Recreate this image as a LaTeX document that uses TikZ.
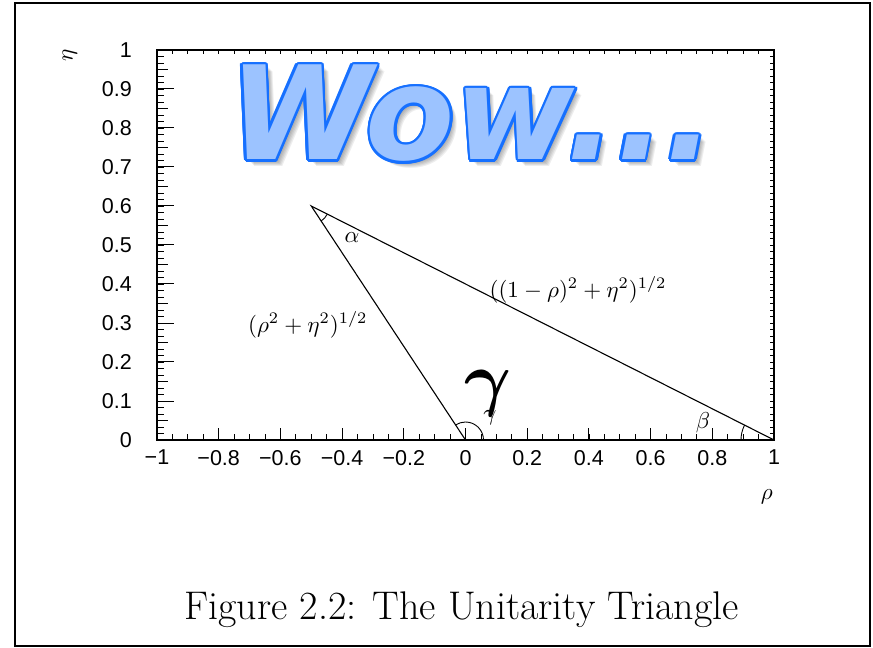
\documentclass[tikz,border=0pt]{standalone}
\usepackage{bm}
\usepackage{fontspec}
\newfontfamily\plotfont{Liberation Sans}
\newfontfamily\wowfont{DejaVu Sans}
\definecolor{wowfill}{HTML}{9CC3FF}
\definecolor{wowline}{HTML}{1670FF}

\begin{document}
\begin{tikzpicture}[x=1pt,y=1pt,
    ticklab/.style={font=\plotfont\fontsize{21.5}{21.5}\selectfont, inner sep=0pt},
    symlab/.style={scale=2.3, inner sep=0pt},
    wowtext/.style={font=\wowfont\bfseries\itshape\fontsize{130}{130}\selectfont, inner sep=0pt, anchor=base}]
    \useasboundingbox (0,0) rectangle (873,648);
    % Rahmen
    \draw[line width=2pt] (15,2) rectangle (870,645);

    % Plot
    \begin{scope}[shift={(465.5pt,208pt)}, x=308.5pt, y=390pt]
        \draw[line width=1.2pt] (-1,0) rectangle (1,1);

        % Striche rho
        \foreach \i in {-20,...,20} {
            \draw[line width=0.8pt] (\i/20,0) -- ++(0,6pt);
            \draw[line width=0.8pt] (\i/20,1) -- ++(0,-4pt);
        }
        \foreach \i in {-5,...,5}
            \draw[line width=1pt] (\i/5,0) -- ++(0,12pt);

        % Striche eta
        \foreach \j in {0,...,60} {
            \draw[line width=0.8pt] (-1,\j/60) -- ++(7pt,0);
            \draw[line width=0.8pt] (1,\j/60) -- ++(-4pt,0);
        }
        \foreach \j in {0,...,9}
            \draw[line width=0.8pt] (-1,\j/10+0.05) -- ++(11pt,0);
        \foreach \j in {0,...,10}
            \draw[line width=1pt] (-1,\j/10) -- ++(17pt,0);

        % Beschriftung
        \foreach \i/\t in {-5/−1,-4/−0.8,-3/−0.6,-2/−0.4,-1/−0.2,0/0,1/0.2,2/0.4,3/0.6,4/0.8,5/1}
            \node[ticklab, anchor=north] (xl\i) at ([yshift=-10pt]\i/5,0) {\t};
        \foreach \j/\t in {0/0,1/0.1,2/0.2,3/0.3,4/0.4,5/0.5,6/0.6,7/0.7,8/0.8,9/0.9,10/1}
            \node[ticklab, anchor=east] (yl\j) at ([xshift=-25pt]-1,\j/10) {\t};
        \node[symlab, rotate=90] (etalab) at (-1.282,0.987) {$\eta$};
        \node[symlab] (rholab) at (0.977,-0.146) {$\rho$};

        % Dreieck
        \coordinate (O) at (0,0);
        \coordinate (B) at (1,0);
        \coordinate (A) at (-0.5,0.6);
        \draw[line width=1.1pt] (O) -- (A) -- (B);

        % Winkel
        \draw[line width=0.9pt] (O) ++(0:18pt) arc[start angle=0, end angle=124, radius=18pt];
        \draw[line width=0.9pt] (A) ++(-56.7:18pt) arc[start angle=-56.7, end angle=-26.8, radius=18pt];
        \draw[line width=0.9pt] (B) ++(180:33pt) arc[start angle=180, end angle=153.2, radius=33pt];

        \node[symlab] (alab) at (-0.368,0.518) {$\alpha$};
        \node[symlab] (blab) at (0.770,0.0436) {$\beta$};
        \node[symlab] (glab) at (0.079,0.056) {$\gamma$};
        \node[symlab] (lhyp) at (0.365,0.385) {$((1-\rho)^2+\eta^2)^{1/2}$};
        \node[symlab] (lside) at (-0.511,0.295) {$(\rho^2+\eta^2)^{1/2}$};
        \node[inner sep=0pt, scale=7.2] (gbig) at (0.073,0.118) {$\bm{\gamma}$};
    \end{scope}

    % Wow...
    \foreach \d in {1,...,5}
        \node[wowtext, text=black, opacity=0.07] (wowshade\d) at (474+\d,486-\d) {Wow...};
    \foreach \a [count=\k] in {0,22.5,...,337.5}
        \node[wowtext, text=wowline] (wowrim\k) at ([shift={(\a:2.6)}]472,488) {Wow...};
    \node[wowtext, text=wowfill] (wow) at (472,488) {Wow...};

    % Unterschrift
    \node[font=\fontsize{40}{40}\selectfont, anchor=base, inner sep=0pt] (caption) at (461.5,28) {Figure 2.2: The Unitarity Triangle};
\end{tikzpicture}
\end{document}
